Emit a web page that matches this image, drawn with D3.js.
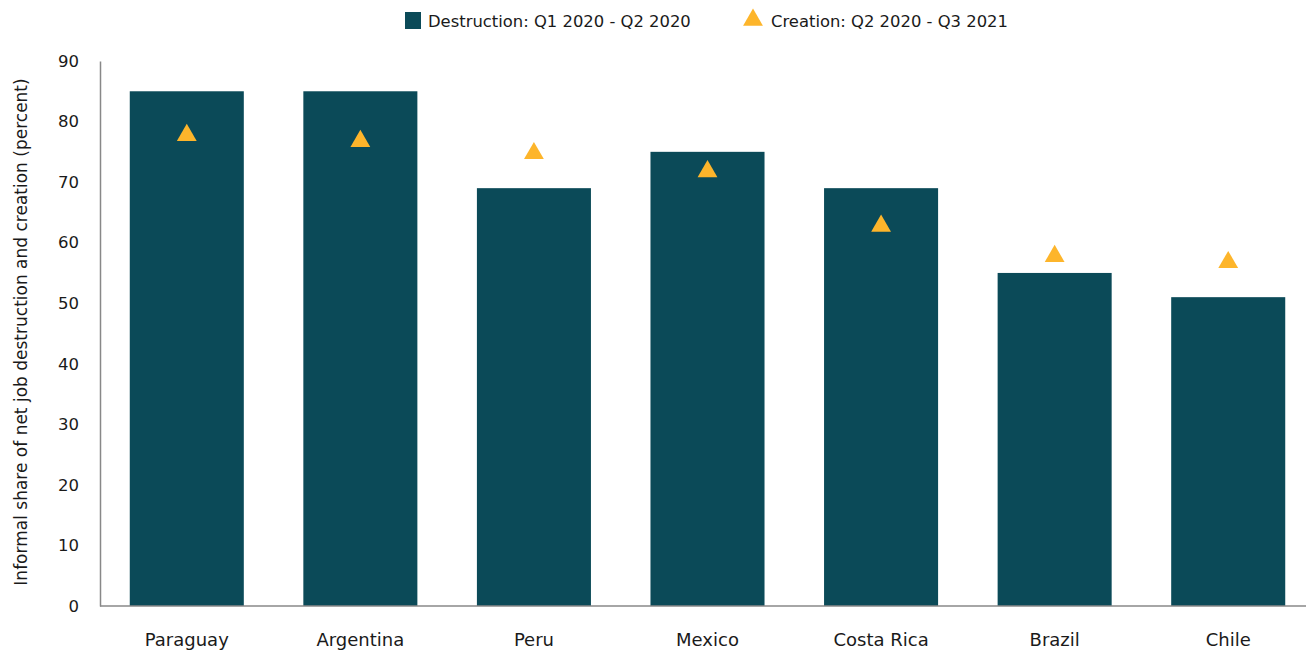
<!DOCTYPE html>
<html>
<head>
<meta charset="utf-8">
<script src="https://cdn.jsdelivr.net/npm/d3@7"></script>
<style>
  body { margin: 0; background: #fff; }
  svg text { font-family: "DejaVu Sans", sans-serif; fill: #1a1a1a; }
</style>
</head>
<body>
<svg id="chart" width="1306" height="650"></svg>
<script>
// data
var countries = ["Paraguay", "Argentina", "Peru", "Mexico", "Costa Rica", "Brazil", "Chile"];
var destruction = [85, 85, 69, 75, 69, 55, 51];
var creation = [78, 77, 75, 72, 63, 58, 57];
var yTicks = [0, 10, 20, 30, 40, 50, 60, 70, 80, 90];

var barColor = "#0b4a58", triColor = "#fdb52b";

var svg = d3.select("#chart"),
    W = +svg.attr("width");

var x = d3.scaleBand().domain(countries).range([100, 1315]).paddingInner(0.343).paddingOuter(0.1715);
var y = d3.scaleLinear().domain([0, 90]).range([606, 61]);

// y axis
var yAxis = svg.append("g").attr("transform", "translate(100,0)")
    .call(d3.axisLeft(y).tickValues(yTicks).tickSize(0).tickPadding(21));
yAxis.select(".domain").attr("stroke", "#888").attr("stroke-width", 1.5);
yAxis.selectAll("text").style("font-size", "16.5px").attr("fill", "#1a1a1a");

svg.append("text")
    .attr("transform", "translate(27,332) rotate(-90)")
    .attr("text-anchor", "middle")
    .style("font-size", "17px")
    .text("Informal share of net job destruction and creation (percent)");

// bars
svg.append("g").selectAll("rect")
  .data(countries)
  .enter().append("rect")
    .attr("x", function(d) { return x(d); })
    .attr("width", x.bandwidth())
    .attr("y", function(d, i) { return y(destruction[i]); })
    .attr("height", function(d, i) { return y(0) - y(destruction[i]); })
    .attr("fill", barColor);

// x axis
var xAxis = svg.append("g").attr("transform", "translate(0,606)")
    .call(d3.axisBottom(x).tickSize(0).tickPadding(27));
xAxis.select(".domain").remove();
xAxis.selectAll("text").style("font-size", "18px").attr("fill", "#1a1a1a");
svg.append("line")
    .attr("x1", 100).attr("x2", W).attr("y1", 606).attr("y2", 606)
    .attr("stroke", "#888").attr("stroke-width", 1.5);

// triangles
var tri = d3.symbol().type(d3.symbolTriangle).size(170);
svg.append("g").selectAll("path")
  .data(countries)
  .enter().append("path")
    .attr("d", tri)
    .attr("transform", function(d, i) {
      return "translate(" + (x(d) + x.bandwidth() / 2) + "," + (y(creation[i]) + 1.5) + ")";
    })
    .attr("fill", triColor);

// legend
var lg = svg.append("g");
lg.append("rect").attr("x", 405).attr("y", 12).attr("width", 16).attr("height", 17).attr("fill", barColor);
lg.append("text").attr("x", 428).attr("y", 27).style("font-size", "16.4px").text("Destruction: Q1 2020 - Q2 2020");
lg.append("path").attr("d", tri).attr("transform", "translate(753,20)").attr("fill", triColor);
lg.append("text").attr("x", 771).attr("y", 27).style("font-size", "16.4px").text("Creation: Q2 2020 - Q3 2021");
</script>
</body>
</html>
